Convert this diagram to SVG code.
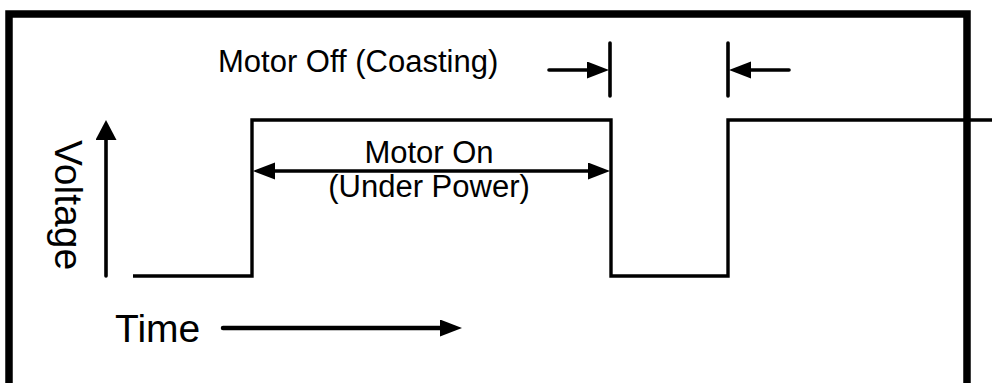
<svg xmlns="http://www.w3.org/2000/svg" width="992" height="383" viewBox="0 0 992 383">
  <style>
    .frame { fill: none; stroke: #000; stroke-width: 7.5; }
    .sig { fill: none; stroke: #000; stroke-width: 3.4; stroke-linejoin: miter; }
    .conn { fill: none; stroke: #000; stroke-width: 3.6; stroke-linecap: round; }
    .thick { stroke-width: 4.5; }
    .tick { fill: none; stroke: #000; stroke-width: 3.6; stroke-linecap: round; }
    .lbl { font-family: "Liberation Sans", Arial, sans-serif; fill: #000; }
    .big { font-size: 39px; }
    .mid { font-size: 31px; }
  </style>
  <defs>
    <marker id="ah" markerUnits="userSpaceOnUse" markerWidth="24" markerHeight="18" refX="10" refY="8.5" orient="auto-start-reverse">
      <path d="M0,0 L22,8.5 L0,17 Z" fill="#000"/>
    </marker>
    <marker id="ahv" markerUnits="userSpaceOnUse" markerWidth="22" markerHeight="22" refX="8" refY="10.5" orient="auto">
      <path d="M0,0 L20,10.5 L0,21 Z" fill="#000"/>
    </marker>
  </defs>
  <rect width="992" height="383" fill="#fff"/>
  <g id="frame">
    <path class="frame" d="M9,383 V14 H967 V383"/>
  </g>
  <g id="signal">
    <path class="sig" d="M133,276 H252 V120 H611 V276 H728 V120 H992"/>
  </g>
  <g id="connectors">
    <line id="voltage-axis" class="conn" x1="106" y1="276" x2="106" y2="132" marker-end="url(#ahv)"/>
    <line id="time-axis" class="conn thick" x1="223" y1="328" x2="450" y2="328" marker-end="url(#ah)"/>
    <line id="motor-on-span" class="conn" x1="265" y1="171" x2="598" y2="171" marker-start="url(#ah)" marker-end="url(#ah)"/>
    <line id="off-left-arrow" class="conn" x1="549" y1="70" x2="597" y2="70" marker-end="url(#ah)"/>
    <line id="off-right-arrow" class="conn" x1="789" y1="70" x2="741" y2="70" marker-end="url(#ah)"/>
    <line class="tick" x1="610" y1="43" x2="610" y2="96"/>
    <line class="tick" x1="728" y1="43" x2="728" y2="96"/>
  </g>
  <g id="label-voltage">
    <text class="lbl big" transform="translate(55,140) rotate(90)" x="0" y="0">Voltage</text>
  </g>
  <g id="label-time">
    <text class="lbl big" x="115" y="342">Time</text>
  </g>
  <g id="label-motor-off">
    <text class="lbl mid" x="218" y="72">Motor Off (Coasting)</text>
  </g>
  <g id="label-motor-on">
    <text class="lbl mid" x="429" y="163" text-anchor="middle">Motor On</text>
    <text class="lbl mid" x="429" y="197" text-anchor="middle">(Under Power)</text>
  </g>
</svg>
